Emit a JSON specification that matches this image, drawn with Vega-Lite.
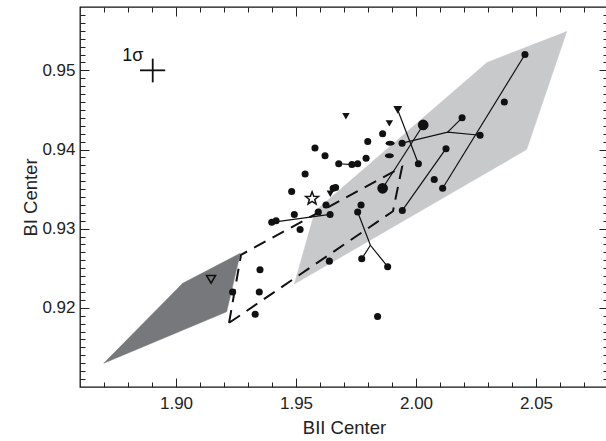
{
  "$schema": "https://vega.github.io/schema/vega-lite/v6.json",
  "autosize": {"type": "none"},
  "padding": {"left": 80, "top": 7, "right": 0, "bottom": 54},
  "width": 528,
  "height": 380,
  "config": {
    "view": {"stroke": "#111", "strokeWidth": 1.3},
    "font": "Liberation Sans",
    "axis": {"labelFont": "Liberation Sans", "titleFont": "Liberation Sans", "labelColor": "#222", "titleColor": "#222", "tickColor": "#222", "grid": false, "domain": false, "labelOverlap": false}
  },
  "data": {
    "values": [
      {"s": "light", "i": 0, "x": 1.9493, "y": 0.9230},
      {"s": "light", "i": 1, "x": 1.9579, "y": 0.9322},
      {"s": "light", "i": 2, "x": 2.0296, "y": 0.9510},
      {"s": "light", "i": 3, "x": 2.0628, "y": 0.9549},
      {"s": "light", "i": 4, "x": 2.0461, "y": 0.9400},
      {"s": "dark", "i": 0, "x": 1.8699, "y": 0.9130},
      {"s": "dark", "i": 1, "x": 1.9028, "y": 0.9231},
      {"s": "dark", "i": 2, "x": 1.9268, "y": 0.9269},
      {"s": "dark", "i": 3, "x": 1.9211, "y": 0.9195},
      {"s": "dash", "i": 0, "x": 1.9221, "y": 0.9181},
      {"s": "dash", "i": 1, "x": 1.9271, "y": 0.9267},
      {"s": "dash", "i": 2, "x": 1.9942, "y": 0.9378},
      {"s": "dash", "i": 3, "x": 1.9904, "y": 0.9322},
      {"s": "link", "g": 1, "i": 0, "x": 2.0454, "y": 0.9520}, {"s": "link", "g": 1, "i": 1, "x": 2.0111, "y": 0.9351},
      {"s": "link", "g": 2, "i": 0, "x": 2.0125, "y": 0.9401}, {"s": "link", "g": 2, "i": 1, "x": 1.9943, "y": 0.9323},
      {"s": "link", "g": 3, "i": 0, "x": 2.0030, "y": 0.9431}, {"s": "link", "g": 3, "i": 1, "x": 1.9861, "y": 0.9351},
      {"s": "link", "g": 4, "i": 0, "x": 1.9924, "y": 0.9450}, {"s": "link", "g": 4, "i": 1, "x": 2.0010, "y": 0.9382},
      {"s": "link", "g": 5, "i": 0, "x": 1.9942, "y": 0.9408}, {"s": "link", "g": 5, "i": 1, "x": 2.0132, "y": 0.9422}, {"s": "link", "g": 5, "i": 2, "x": 2.0267, "y": 0.9418},
      {"s": "link", "g": 6, "i": 0, "x": 2.0132, "y": 0.9422}, {"s": "link", "g": 6, "i": 1, "x": 2.0192, "y": 0.9440},
      {"s": "link", "g": 7, "i": 0, "x": 1.9678, "y": 0.9382}, {"s": "link", "g": 7, "i": 1, "x": 1.9733, "y": 0.9381}, {"s": "link", "g": 7, "i": 2, "x": 1.9757, "y": 0.9382},
      {"s": "link", "g": 8, "i": 0, "x": 1.9399, "y": 0.9308}, {"s": "link", "g": 8, "i": 1, "x": 1.9642, "y": 0.9318},
      {"s": "link", "g": 9, "i": 0, "x": 1.9757, "y": 0.9321}, {"s": "link", "g": 9, "i": 1, "x": 1.9810, "y": 0.9279}, {"s": "link", "g": 9, "i": 2, "x": 1.9882, "y": 0.9252},
      {"s": "link", "g": 10, "i": 0, "x": 1.9810, "y": 0.9279}, {"s": "link", "g": 10, "i": 1, "x": 1.9774, "y": 0.9262},
      {"s": "dot", "x": 2.0454, "y": 0.9520},
      {"s": "dot", "x": 2.0368, "y": 0.9460},
      {"s": "dot", "x": 2.0267, "y": 0.9418},
      {"s": "dot", "x": 2.0192, "y": 0.9440},
      {"s": "dot", "x": 2.0125, "y": 0.9401},
      {"s": "dot", "x": 2.0111, "y": 0.9351},
      {"s": "dot", "x": 2.0076, "y": 0.9362},
      {"s": "dot", "x": 2.0010, "y": 0.9382},
      {"s": "dot", "x": 1.9942, "y": 0.9408},
      {"s": "dot", "x": 1.9943, "y": 0.9323},
      {"s": "dot", "x": 1.9861, "y": 0.9420},
      {"s": "dot", "x": 1.9799, "y": 0.9410},
      {"s": "dot", "x": 1.9792, "y": 0.9389},
      {"s": "dot", "x": 1.9678, "y": 0.9382},
      {"s": "dot", "x": 1.9733, "y": 0.9381},
      {"s": "dot", "x": 1.9757, "y": 0.9382},
      {"s": "dot", "x": 1.9621, "y": 0.9392},
      {"s": "dot", "x": 1.9579, "y": 0.9402},
      {"s": "dot", "x": 1.9538, "y": 0.9369},
      {"s": "dot", "x": 1.9482, "y": 0.9347},
      {"s": "dot", "x": 1.9655, "y": 0.9351},
      {"s": "dot", "x": 1.9665, "y": 0.9352},
      {"s": "dot", "x": 1.9625, "y": 0.9330},
      {"s": "dot", "x": 1.9593, "y": 0.9321},
      {"s": "dot", "x": 1.9642, "y": 0.9318},
      {"s": "dot", "x": 1.9493, "y": 0.9318},
      {"s": "dot", "x": 1.9517, "y": 0.9299},
      {"s": "dot", "x": 1.9399, "y": 0.9308},
      {"s": "dot", "x": 1.9417, "y": 0.9310},
      {"s": "dot", "x": 1.9771, "y": 0.9330},
      {"s": "dot", "x": 1.9757, "y": 0.9321},
      {"s": "dot", "x": 1.9774, "y": 0.9262},
      {"s": "dot", "x": 1.9882, "y": 0.9252},
      {"s": "dot", "x": 1.9639, "y": 0.9259},
      {"s": "dot", "x": 1.9840, "y": 0.9189},
      {"s": "dot", "x": 1.9350, "y": 0.9248},
      {"s": "dot", "x": 1.9347, "y": 0.9220},
      {"s": "dot", "x": 1.9236, "y": 0.9220},
      {"s": "dot", "x": 1.9330, "y": 0.9192},
      {"s": "big", "x": 2.0030, "y": 0.9431},
      {"s": "big", "x": 1.9861, "y": 0.9351},
      {"s": "tri", "x": 1.9708, "y": 0.9442},
      {"s": "tri", "x": 1.9889, "y": 0.9433},
      {"s": "tri", "x": 1.9643, "y": 0.9344},
      {"s": "bigtri", "x": 1.9924, "y": 0.9450},
      {"s": "opentri", "x": 1.9146, "y": 0.9236},
      {"s": "star", "x": 1.9567, "y": 0.9338},
      {"s": "oval", "x": 1.9892, "y": 0.9408},
      {"s": "oval", "x": 1.9889, "y": 0.9392},
      {"s": "sig", "x": 1.8903, "y": 0.9500, "xlo": 1.8850, "xhi": 1.8955, "ylo": 0.94848, "yhi": 0.95148, "label": "1σ", "tx": 1.8820, "ty": 0.95175}
    ]
  },
  "resolve": {"axis": {"x": "independent", "y": "independent"}},
  "layer": [
    {
      "transform": [{"filter": "datum.s === 'light'"}],
      "mark": {"type": "line", "interpolate": "linear-closed", "fill": "#c8c9cb", "stroke": "#c8c9cb", "strokeWidth": 0.5},
      "encoding": {
        "x": {"field": "x", "type": "quantitative", "scale": {"domain": [1.86, 2.08], "nice": false, "zero": false},
              "axis": {"orient": "bottom", "values": [1.87, 1.88, 1.89, 1.9, 1.91, 1.92, 1.93, 1.94, 1.95, 1.96, 1.97, 1.98, 1.99, 2.0, 2.01, 2.02, 2.03, 2.04, 2.05, 2.06, 2.07],
                       "labelExpr": "abs(datum.value*20 - round(datum.value*20)) < 0.0001 ? format(datum.value, '.2f') : ''",
                       "tickSize": {"condition": {"test": "abs(datum.value*20 - round(datum.value*20)) < 0.0001", "value": -9}, "value": -5},
                       "tickWidth": 1, "labelFontSize": 17, "labelPadding": 17, "title": "BII Center", "titleFontSize": 18.5, "titleFontWeight": "normal", "titlePadding": 3}},
        "y": {"field": "y", "type": "quantitative", "scale": {"domain": [0.91, 0.958], "nice": false, "zero": false},
              "axis": {"orient": "left", "values": [0.911, 0.912, 0.913, 0.914, 0.915, 0.916, 0.917, 0.918, 0.919, 0.92, 0.921, 0.922, 0.923, 0.924, 0.925, 0.926, 0.927, 0.928, 0.929, 0.93, 0.931, 0.932, 0.933, 0.934, 0.935, 0.936, 0.937, 0.938, 0.939, 0.94, 0.941, 0.942, 0.943, 0.944, 0.945, 0.946, 0.947, 0.948, 0.949, 0.95, 0.951, 0.952, 0.953, 0.954, 0.955, 0.956, 0.957],
                       "labelExpr": "abs(datum.value*100 - round(datum.value*100)) < 0.0001 ? format(datum.value, '.2f') : ''",
                       "tickSize": {"condition": {"test": "abs(datum.value*100 - round(datum.value*100)) < 0.0001", "value": -9}, "value": -5},
                       "tickWidth": 1, "labelFontSize": 17, "labelPadding": 14, "title": "BI Center", "titleFontSize": 18.5, "titleFontWeight": "normal", "titlePadding": 1}},
        "order": {"field": "i", "type": "quantitative"}
      }
    },
    {
      "transform": [{"filter": "datum.s === 'dark'"}],
      "mark": {"type": "line", "interpolate": "linear-closed", "fill": "#77787b", "stroke": "#77787b", "strokeWidth": 0.5},
      "encoding": {
        "x": {"field": "x", "type": "quantitative", "scale": {"domain": [1.86, 2.08], "nice": false, "zero": false},
              "axis": {"orient": "top", "values": [1.87, 1.88, 1.89, 1.9, 1.91, 1.92, 1.93, 1.94, 1.95, 1.96, 1.97, 1.98, 1.99, 2.0, 2.01, 2.02, 2.03, 2.04, 2.05, 2.06, 2.07],
                       "labels": false,
                       "tickSize": {"condition": {"test": "abs(datum.value*20 - round(datum.value*20)) < 0.0001", "value": -9}, "value": -5},
                       "tickWidth": 1, "title": null}},
        "y": {"field": "y", "type": "quantitative", "scale": {"domain": [0.91, 0.958], "nice": false, "zero": false},
              "axis": {"orient": "right", "values": [0.911, 0.912, 0.913, 0.914, 0.915, 0.916, 0.917, 0.918, 0.919, 0.92, 0.921, 0.922, 0.923, 0.924, 0.925, 0.926, 0.927, 0.928, 0.929, 0.93, 0.931, 0.932, 0.933, 0.934, 0.935, 0.936, 0.937, 0.938, 0.939, 0.94, 0.941, 0.942, 0.943, 0.944, 0.945, 0.946, 0.947, 0.948, 0.949, 0.95, 0.951, 0.952, 0.953, 0.954, 0.955, 0.956, 0.957],
                       "labels": false,
                       "tickSize": {"condition": {"test": "abs(datum.value*100 - round(datum.value*100)) < 0.0001", "value": -9}, "value": -5},
                       "tickWidth": 1, "title": null}},
        "order": {"field": "i", "type": "quantitative"}
      }
    },
    {
      "transform": [{"filter": "datum.s === 'dash'"}],
      "mark": {"type": "line", "interpolate": "linear-closed", "stroke": "#111", "strokeWidth": 2, "strokeDash": [13, 8]},
      "encoding": {
        "x": {"field": "x", "type": "quantitative", "scale": {"domain": [1.86, 2.08], "nice": false, "zero": false}, "axis": null},
        "y": {"field": "y", "type": "quantitative", "scale": {"domain": [0.91, 0.958], "nice": false, "zero": false}, "axis": null},
        "order": {"field": "i", "type": "quantitative"}
      }
    },
    {
      "transform": [{"filter": "datum.s === 'link'"}],
      "mark": {"type": "line", "stroke": "#111", "strokeWidth": 1.2},
      "encoding": {
        "x": {"field": "x", "type": "quantitative", "scale": {"domain": [1.86, 2.08], "nice": false, "zero": false}, "axis": null},
        "y": {"field": "y", "type": "quantitative", "scale": {"domain": [0.91, 0.958], "nice": false, "zero": false}, "axis": null},
        "detail": {"field": "g", "type": "nominal"},
        "order": {"field": "i", "type": "quantitative"}
      }
    },
    {
      "transform": [{"filter": "datum.s === 'dot'"}],
      "mark": {"type": "point", "shape": "circle", "filled": true, "color": "#111", "opacity": 1, "size": 50},
      "encoding": {
        "x": {"field": "x", "type": "quantitative", "scale": {"domain": [1.86, 2.08], "nice": false, "zero": false}, "axis": null},
        "y": {"field": "y", "type": "quantitative", "scale": {"domain": [0.91, 0.958], "nice": false, "zero": false}, "axis": null}
      }
    },
    {
      "transform": [{"filter": "datum.s === 'big'"}],
      "mark": {"type": "point", "shape": "circle", "filled": true, "color": "#111", "opacity": 1, "size": 115},
      "encoding": {
        "x": {"field": "x", "type": "quantitative", "scale": {"domain": [1.86, 2.08], "nice": false, "zero": false}, "axis": null},
        "y": {"field": "y", "type": "quantitative", "scale": {"domain": [0.91, 0.958], "nice": false, "zero": false}, "axis": null}
      }
    },
    {
      "transform": [{"filter": "datum.s === 'tri'"}],
      "mark": {"type": "point", "shape": "triangle-down", "filled": true, "color": "#111", "opacity": 1, "size": 55},
      "encoding": {
        "x": {"field": "x", "type": "quantitative", "scale": {"domain": [1.86, 2.08], "nice": false, "zero": false}, "axis": null},
        "y": {"field": "y", "type": "quantitative", "scale": {"domain": [0.91, 0.958], "nice": false, "zero": false}, "axis": null}
      }
    },
    {
      "transform": [{"filter": "datum.s === 'bigtri'"}],
      "mark": {"type": "point", "shape": "triangle-down", "filled": true, "color": "#111", "opacity": 1, "size": 80},
      "encoding": {
        "x": {"field": "x", "type": "quantitative", "scale": {"domain": [1.86, 2.08], "nice": false, "zero": false}, "axis": null},
        "y": {"field": "y", "type": "quantitative", "scale": {"domain": [0.91, 0.958], "nice": false, "zero": false}, "axis": null}
      }
    },
    {
      "transform": [{"filter": "datum.s === 'opentri'"}],
      "mark": {"type": "point", "shape": "triangle-down", "filled": false, "stroke": "#111", "strokeWidth": 1.6, "opacity": 1, "size": 80},
      "encoding": {
        "x": {"field": "x", "type": "quantitative", "scale": {"domain": [1.86, 2.08], "nice": false, "zero": false}, "axis": null},
        "y": {"field": "y", "type": "quantitative", "scale": {"domain": [0.91, 0.958], "nice": false, "zero": false}, "axis": null}
      }
    },
    {
      "transform": [{"filter": "datum.s === 'star'"}],
      "mark": {"type": "point", "shape": "M0,-1L0.2469,-0.3398L0.951,-0.309L0.3994,0.1298L0.588,0.809L0,0.42L-0.588,0.809L-0.3994,0.1298L-0.951,-0.309L-0.2469,-0.3398Z", "filled": false, "stroke": "#111", "strokeWidth": 1.5, "opacity": 1, "size": 185},
      "encoding": {
        "x": {"field": "x", "type": "quantitative", "scale": {"domain": [1.86, 2.08], "nice": false, "zero": false}, "axis": null},
        "y": {"field": "y", "type": "quantitative", "scale": {"domain": [0.91, 0.958], "nice": false, "zero": false}, "axis": null}
      }
    },
    {
      "transform": [{"filter": "datum.s === 'oval'"}],
      "mark": {"type": "point", "shape": "M-1,0A1,0.55,0,1,1,1,0A1,0.55,0,1,1,-1,0Z", "filled": true, "color": "#111", "opacity": 1, "size": 81},
      "encoding": {
        "x": {"field": "x", "type": "quantitative", "scale": {"domain": [1.86, 2.08], "nice": false, "zero": false}, "axis": null},
        "y": {"field": "y", "type": "quantitative", "scale": {"domain": [0.91, 0.958], "nice": false, "zero": false}, "axis": null}
      }
    },
    {
      "transform": [{"filter": "datum.s === 'sig'"}],
      "mark": {"type": "rule", "stroke": "#111", "strokeWidth": 1.8},
      "encoding": {
        "x": {"field": "xlo", "type": "quantitative", "scale": {"domain": [1.86, 2.08], "nice": false, "zero": false}, "axis": null},
        "x2": {"field": "xhi"},
        "y": {"field": "y", "type": "quantitative", "scale": {"domain": [0.91, 0.958], "nice": false, "zero": false}, "axis": null}
      }
    },
    {
      "transform": [{"filter": "datum.s === 'sig'"}],
      "mark": {"type": "rule", "stroke": "#111", "strokeWidth": 1.8},
      "encoding": {
        "x": {"field": "x", "type": "quantitative", "scale": {"domain": [1.86, 2.08], "nice": false, "zero": false}, "axis": null},
        "y": {"field": "ylo", "type": "quantitative", "scale": {"domain": [0.91, 0.958], "nice": false, "zero": false}, "axis": null},
        "y2": {"field": "yhi"}
      }
    },
    {
      "transform": [{"filter": "datum.s === 'sig'"}],
      "mark": {"type": "text", "font": "Liberation Sans", "fontSize": 18, "color": "#111", "align": "center", "baseline": "middle"},
      "encoding": {
        "x": {"field": "tx", "type": "quantitative", "scale": {"domain": [1.86, 2.08], "nice": false, "zero": false}, "axis": null},
        "y": {"field": "ty", "type": "quantitative", "scale": {"domain": [0.91, 0.958], "nice": false, "zero": false}, "axis": null},
        "text": {"field": "label"}
      }
    }
  ]
}
